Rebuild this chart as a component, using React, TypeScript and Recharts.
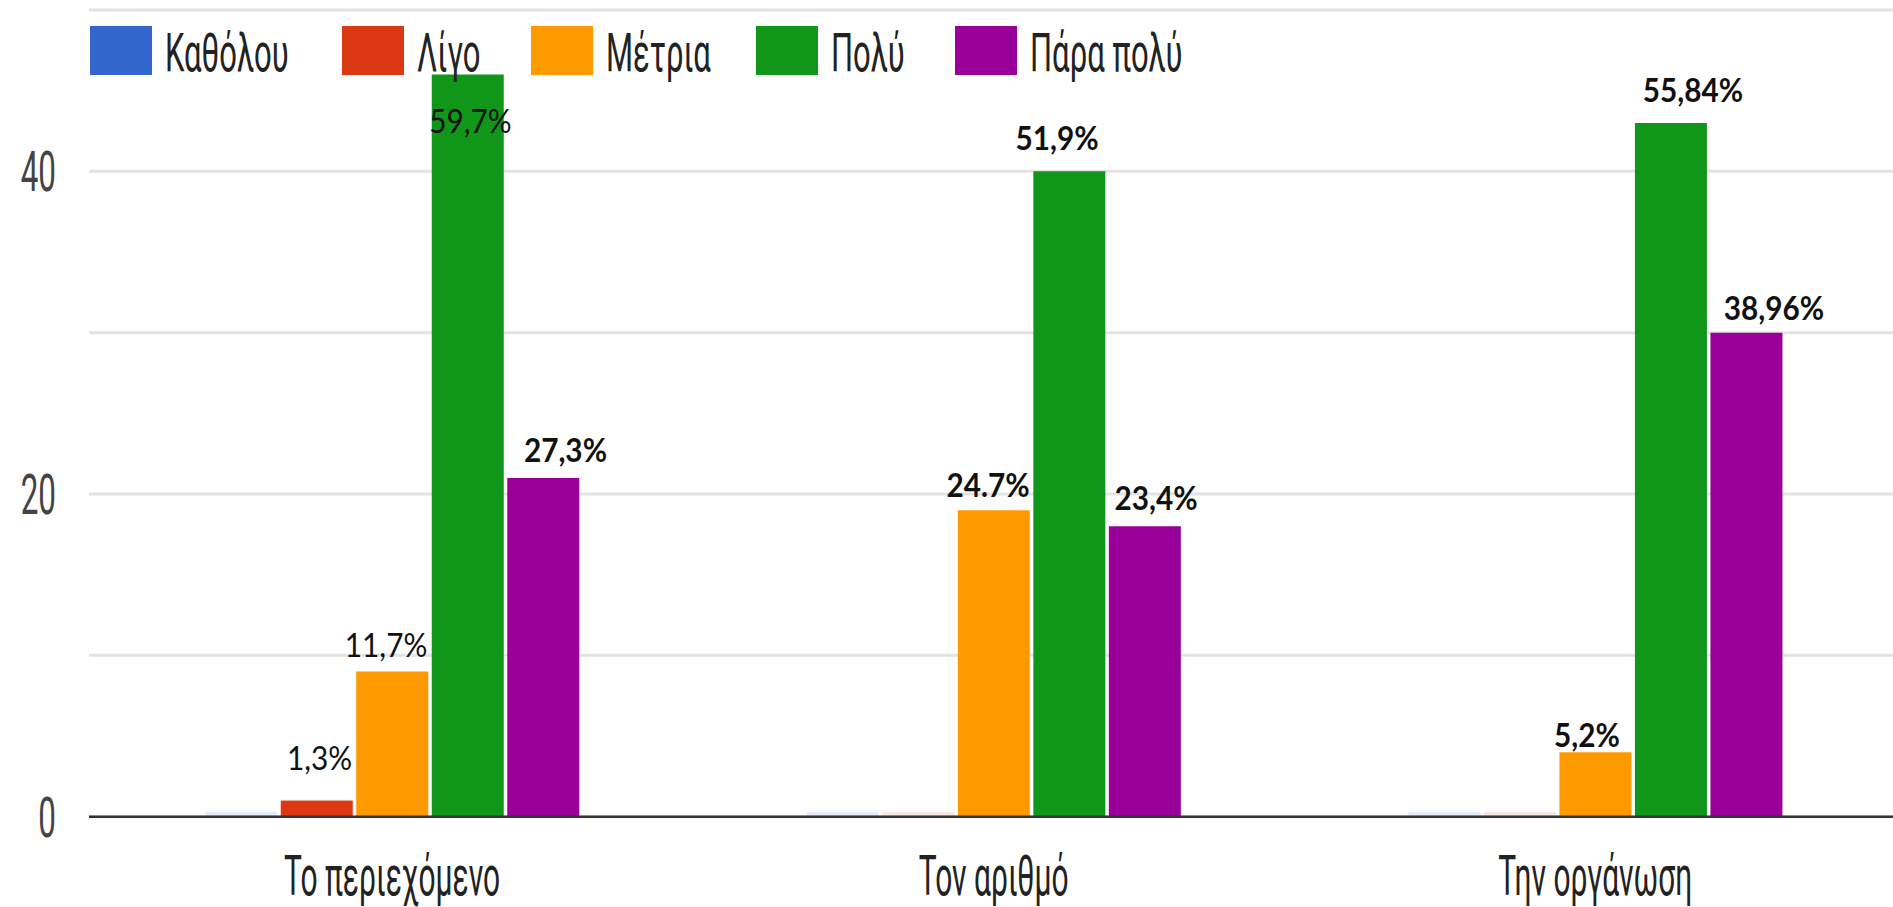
import React from 'react';
import { BarChart, Bar, XAxis, YAxis, CartesianGrid, Legend, LabelList } from 'recharts';

// ---- data ----
const categories = ['Το περιεχόμενο', 'Τον αριθμό', 'Την οργάνωση'];
const seriesNames = ['Καθόλου', 'Λίγο', 'Μέτρια', 'Πολύ', 'Πάρα πολύ'];
const katholou = [0, 0, 0];
const ligo = [1, 0, 0];
const metria = [9, 19, 4];
const poly = [46, 40, 43];
const paraPoly = [21, 18, 30];
const ligoLabels = ['1,3%', '', ''];
const metriaLabels = ['11,7%', '24.7%', '5,2%'];
const polyLabels = ['59,7%', '51,9%', '55,84%'];
const paraPolyLabels = ['27,3%', '23,4%', '38,96%'];
const yTicks = [0, 10, 20, 30, 40, 50];
const yTickLabels = ['0', '', '20', '', '40', ''];

// ---- style ----
const COLORS = ['#3366cc', '#dc3912', '#ff9900', '#109618', '#990099'];
const KEYS = ['s0', 's1', 's2', 's3', 's4'];
const LEGEND_X = [90, 342, 531, 756, 955];
const TEXT_SX = 0.56;
const LEGEND_SX = 0.585;
const CAT_SX = 0.535;

type LStyle = { dx: number; dy: number; bold: boolean };
const ligoLabelStyle: LStyle[] = [
  { dx: 2.7, dy: -30.6, bold: false },
  { dx: 0, dy: 0, bold: false },
  { dx: 0, dy: 0, bold: false },
];
const metriaLabelStyle: LStyle[] = [
  { dx: -6.2, dy: -14.6, bold: false },
  { dx: -5.8, dy: -13.3, bold: true },
  { dx: -8.4, dy: -5.2, bold: true },
];
const polyLabelStyle: LStyle[] = [
  { dx: 2.7, dy: 58.5, bold: false },
  { dx: -12.3, dy: -21.7, bold: true },
  { dx: 22.1, dy: -21.3, bold: true },
];
const paraPolyLabelStyle: LStyle[] = [
  { dx: 22.2, dy: -16, bold: true },
  { dx: 11.2, dy: -16.5, bold: true },
  { dx: 27.6, dy: -13, bold: true },
];

const data = categories.map((name, i) => ({
  name,
  s0: katholou[i],
  s1: ligo[i],
  s2: metria[i],
  s3: poly[i],
  s4: paraPoly[i],
}));

const makeLabel = (texts: string[], styles: LStyle[]) => (props: any) => {
  const { x, y, width, index } = props;
  const t = texts[index];
  if (!t) return null;
  const s = styles[index];
  const cx = Number(x) + Number(width) / 2 + s.dx;
  const by = Number(y) + s.dy;
  return (
    <g transform={`translate(${cx},${by})`}>
      <text
        transform="scale(0.93,1)"
        textAnchor="middle"
        fontFamily="Lato"
        fontSize={32}
        fontWeight={s.bold ? 700 : 400}
        fill="#111"
      >
        {t}
      </text>
    </g>
  );
};

const FaintZeroBar = (props: any) => {
  const { x, y, width, height, fill, value } = props;
  const v = Array.isArray(value) ? value[1] - value[0] : value;
  const isZero = v === 0;
  return (
    <rect x={x} y={y} width={width} height={height} fill={fill} fillOpacity={isZero ? 0.12 : 1} />
  );
};

const CatTick = (props: any) => {
  const { x, y, payload } = props;
  return (
    <g transform={`translate(${x},${y})`}>
      <text
        transform={`scale(${CAT_SX},1)`}
        x={0}
        y={78}
        textAnchor="middle"
        fontFamily="Roboto"
        fontSize={56}
        fill="#222"
      >
        {payload.value}
      </text>
    </g>
  );
};

const YTick = (props: any) => {
  const { x, y, payload } = props;
  const idx = yTicks.indexOf(payload.value);
  const label = yTickLabels[idx];
  if (!label) return null;
  return (
    <g transform={`translate(${x},${y})`}>
      <text
        transform={`scale(${TEXT_SX},1)`}
        y={20}
        textAnchor="end"
        fontFamily="Roboto"
        fontSize={56}
        fill="#444"
      >
        {label}
      </text>
    </g>
  );
};

const renderLegend = () => (
  <svg width={1300} height={90} style={{ display: 'block' }}>
    {seriesNames.map((name, i) => {
      const lx = LEGEND_X[i];
      return (
        <g key={name}>
          <rect x={lx} y={26} width={62} height={49} fill={COLORS[i]} />
          <g transform={`translate(${lx + 75},71)`}>
            <text
              transform={`scale(${LEGEND_SX},1)`}
              fontFamily="Roboto"
              fontSize={53}
              fill="#222"
            >
              {name}
            </text>
          </g>
        </g>
      );
    })}
  </svg>
);

export default function App() {
  return (
    <div
      style={{
        position: 'absolute',
        left: 0,
        top: 0,
        width: 1893,
        height: 907,
        overflow: 'hidden',
        background: '#fff',
      }}
    >
      <BarChart
        width={1896}
        height={907}
        data={data}
        margin={{ top: 10, right: 0, bottom: 0, left: 0 }}
        barSize={72}
        barGap={3.5}
      >
        <CartesianGrid vertical={false} stroke="#e3e3e3" strokeWidth={3} />
        <XAxis
          dataKey="name"
          height={90.3}
          padding={{ left: 2.25, right: 0 }}
          tickLine={false}
          tickSize={0}
          tickMargin={0}
          axisLine={{ stroke: '#333', strokeWidth: 2.5 }}
          tick={<CatTick />}
          interval={0}
        />
        <YAxis
          width={89}
          domain={[0, 50]}
          ticks={yTicks}
          interval={0}
          axisLine={false}
          tickLine={false}
          tickSize={0}
          tickMargin={33}
          tick={<YTick />}
        />
        <Legend
          verticalAlign="middle"
          align="center"
          layout="horizontal"
          wrapperStyle={{ position: 'absolute', top: 0, left: 0, width: 1300, height: 90 }}
          content={renderLegend}
        />
        {KEYS.map((k, i) => {
          const isSmall = i < 2;
          return (
            <Bar
              key={k}
              dataKey={k}
              name={seriesNames[i]}
              fill={COLORS[i]}
              isAnimationActive={false}
              minPointSize={isSmall ? 5 : 0}
              shape={isSmall ? <FaintZeroBar /> : undefined}
            >
              {i === 1 && <LabelList content={makeLabel(ligoLabels, ligoLabelStyle)} />}
              {i === 2 && <LabelList content={makeLabel(metriaLabels, metriaLabelStyle)} />}
              {i === 3 && <LabelList content={makeLabel(polyLabels, polyLabelStyle)} />}
              {i === 4 && <LabelList content={makeLabel(paraPolyLabels, paraPolyLabelStyle)} />}
            </Bar>
          );
        })}
      </BarChart>
    </div>
  );
}
